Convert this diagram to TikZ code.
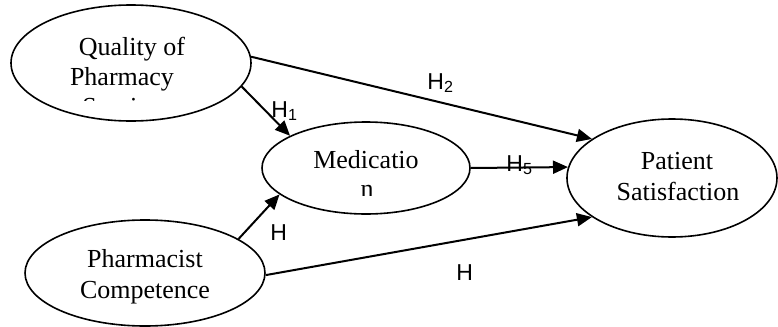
\documentclass[tikz,border=0pt]{standalone}
\usepackage{fontspec}
\setmainfont{Liberation Serif}
\newfontfamily\labfont{Liberation Sans}
\usetikzlibrary{shapes.geometric,arrows.meta}
\begin{document}
\begin{tikzpicture}[x=0.5pt,y=-0.5pt,
  construct/.style={draw,ellipse,line width=0.8pt,inner sep=0pt},
  txt/.style={inner sep=0pt,font=\fontsize{13}{16}\selectfont,anchor=base},
  hyp/.style={inner sep=0pt,font=\labfont\fontsize{11.5}{14}\selectfont,anchor=base west},
  path/.style={line width=1pt,-{Triangle[length=7.5pt,width=6.5pt]}}]
\useasboundingbox (0,0) rectangle (778,327);
% constructs
\node[construct,minimum width=120pt,minimum height=58pt] (q) at (131,63) {};
\node[construct,minimum width=104pt,minimum height=46pt] (m) at (366,168) {};
\node[construct,minimum width=105pt,minimum height=59pt] (p) at (672,178) {};
\node[construct,minimum width=120pt,minimum height=53pt] (c) at (145,273) {};
% texts
\node[txt] (q1) at (132,55) {Quality of};
\node[txt] (q2) at (122,85) {Pharmacy};
\begin{scope}
  \clip (0,0) rectangle (300,100);
  \node[txt] (q3) at (126.5,115) {Services};
\end{scope}
\node[txt] (m1) at (366,168) {Medicatio};
\begin{scope}
  \clip (250,150) rectangle (480,195);
  \node[txt] (m2) at (367,197.5) {n};
\end{scope}
\node[txt] (p1) at (677,169) {Patient};
\node[txt] (p2) at (678,200) {Satisfaction};
\node[txt] (c1) at (145,267) {Pharmacist};
\node[txt] (c2) at (145,298) {Competence};
% paths
\draw[path] (q.-12) -- (m.157);
\draw[path] (q.3.8) -- (p.154);
\draw[path] (m.0) -- (p.174.6);
\draw[path] (c.20.8) -- (m.197.8);
\draw[path] (c.-1.4) -- (p.206);
% labels
\node[hyp] (h1) at (271,117) {H\textsubscript{1}};
\node[hyp] (h2) at (427,89) {H\textsubscript{2}};
\node[hyp] (h5) at (506,171) {H\textsubscript{5}};
\node[hyp] (h3) at (270,240) {H};
\node[hyp] (h4) at (456,280) {H};
\end{tikzpicture}
\end{document}
